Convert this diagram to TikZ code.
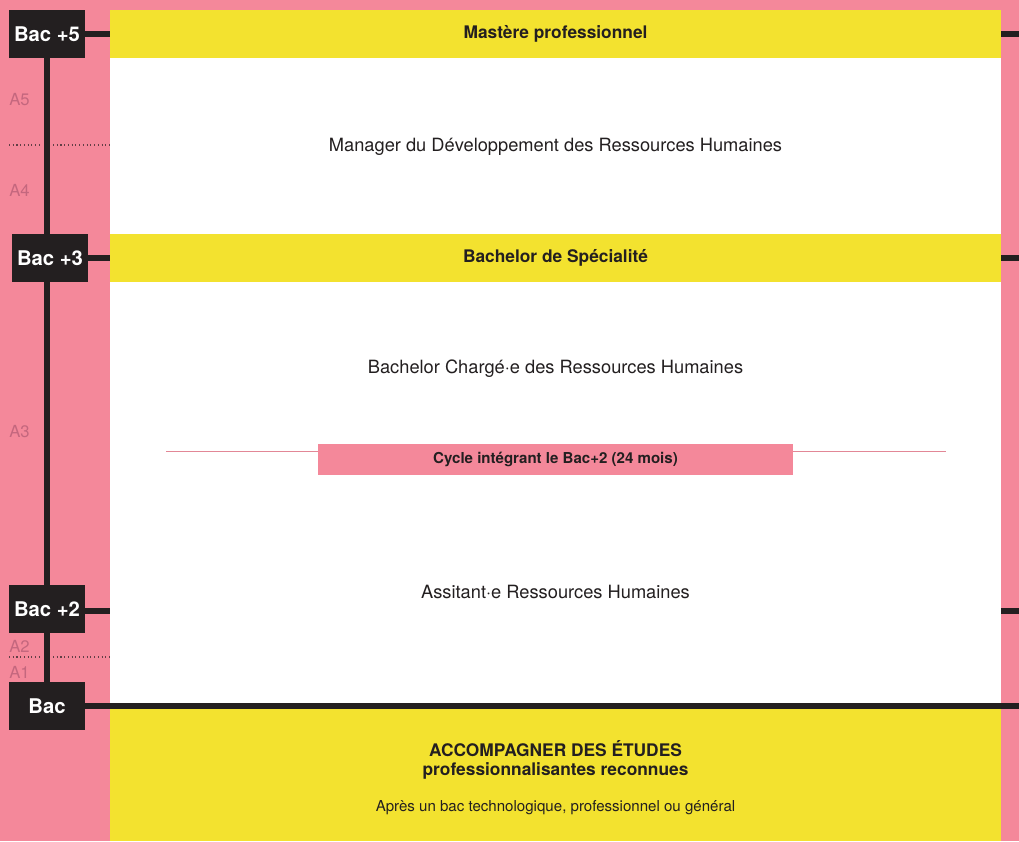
\documentclass[tikz,border=0pt]{standalone}
\usepackage{fontspec}
\setmainfont{TeX Gyre Heros}
\definecolor{rose}{HTML}{F4889A}
\definecolor{jaune}{HTML}{F3E22F}
\definecolor{ink}{HTML}{231F20}
\definecolor{annee}{HTML}{C4677E}
\begin{document}
\begin{tikzpicture}[x=0.75pt,y=-0.75pt,
    lvl/.style={fill=ink, text=white, inner sep=0pt, minimum width=57pt, minimum height=36pt,
      font=\bfseries\fontsize{15.2}{17}\selectfont},
    band/.style={fill=jaune, text=ink, inner sep=0pt, minimum width=668.25pt, minimum height=36pt,
      font=\bfseries\fontsize{13}{15}\selectfont},
    titre/.style={text=ink, font=\fontsize{13.7}{16}\selectfont},
    annee/.style={text=annee, anchor=west, inner sep=0pt, font=\fontsize{12.5}{14}\selectfont},
    trait/.style={ink, line width=4.5pt},
    pointille/.style={ink!70!rose, line width=0.8pt, dotted}]
  \useasboundingbox (0,0) rectangle (1019,841);
  \fill[rose] (0,0) rectangle (1019,841);
  \fill[white] (110,58) rectangle (1001,706);
  \fill[jaune] (110,706) rectangle (1001,841);

  % bandeaux
  \node[band] (m5) at (555.5,34) {Mastère professionnel};
  \node[band] (b3) at (555.5,258) {Bachelor de Spécialité};

  % intitules
  \node[titre] (mdrh) at (555.5,147) {Manager du Développement des Ressources Humaines};
  \node[titre] (bcrh) at (555.5,369) {Bachelor Chargé·e des Ressources Humaines};
  \node[titre] (arh) at (555.5,592) {Assitant·e Ressources Humaines};

  % cycle
  \draw[rose!85!gray, line width=0.6pt] (166,451) -- (946,451);
  \node[fill=rose, text=ink, inner sep=0pt, minimum width=356.25pt, minimum height=23.25pt,
    font=\bfseries\fontsize{11.3}{13}\selectfont] (cycle) at (555.5,459.5) {Cycle intégrant le Bac+2 (24 mois)};

  % bas
  \node[text=ink, align=center, font=\bfseries\fontsize{13}{14.5}\selectfont] (acc) at (555.5,760)
    {ACCOMPAGNER DES ÉTUDES\\professionnalisantes reconnues};
  \node[text=ink, font=\fontsize{11.3}{13}\selectfont] (apres) at (555.5,808)
    {Après un bac technologique, professionnel ou général};

  % niveaux
  \node[lvl] (bac5) at (47,34) {Bac +5};
  \node[lvl] (bac3) at (50,258) {Bac +3};
  \node[lvl] (bac2) at (47,609) {Bac +2};
  \node[lvl] (bac) at (47,706) {Bac};

  \coordinate (p2) at (110,611);
  \coordinate (e0) at (1019,706);
  \coordinate (e5) at (1019,34);
  \coordinate (e3) at (1019,258);
  \coordinate (e2) at (1019,611);
  \coordinate (a2) at (1001,611);

  \draw[trait] (bac5.south) -- (bac5.south |- bac3.north);
  \draw[trait] (bac5.south |- bac3.south) -- (bac2.north);
  \draw[trait] (bac2.south) -- (bac.north);
  \draw[trait] (bac5) -- (m5);
  \draw[trait] (bac3) -- (b3);
  \draw[trait] (bac2.east |- p2) -- (p2);
  \draw[trait] (bac) -- (e0);
  \draw[trait] (m5) -- (e5);
  \draw[trait] (b3) -- (e3);
  \draw[trait] (a2) -- (e2);

  % annees
  \draw[pointille] (9,145) -- (41,145);
  \draw[pointille] (53,145) -- (110,145);
  \draw[pointille] (9,657) -- (41,657);
  \draw[pointille] (53,657) -- (110,657);
  \node[annee] (a5) at (9,100) {A5};
  \node[annee] (a4) at (9,190) {A4};
  \node[annee] (a3) at (9,432) {A3};
  \node[annee] (an2) at (9,646) {A2};
  \node[annee] (an1) at (9,672) {A1};
\end{tikzpicture}
\end{document}
